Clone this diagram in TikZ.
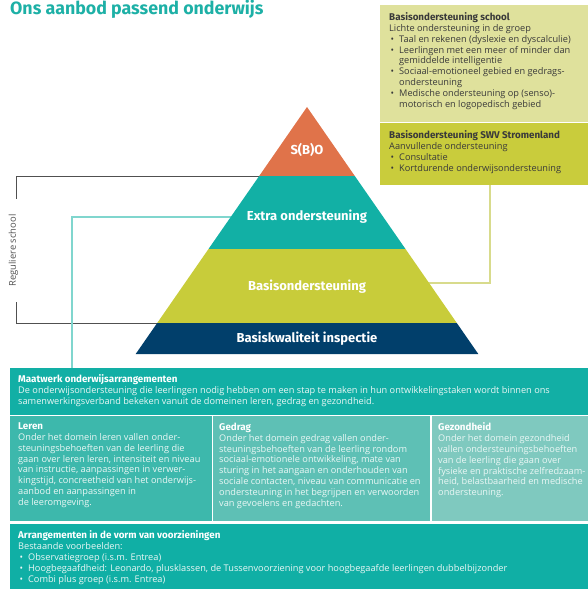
\documentclass[tikz,border=0pt]{standalone}
\usepackage{fontspec}
\setmainfont{Open Sans}
\newfontfamily\hfont{Fira Sans}
\definecolor{titleteal}{HTML}{1DB0A6}
\definecolor{pyorange}{HTML}{E0734A}
\definecolor{pyteal}{HTML}{12B0A5}
\definecolor{pygreen}{HTML}{C8CC3A}
\definecolor{pynavy}{HTML}{013F6B}
\definecolor{lightbox}{HTML}{DFE19C}
\definecolor{greenbox}{HTML}{C9CC3C}
\definecolor{greenline}{HTML}{D8DB8C}
\definecolor{tealline}{HTML}{80D6CE}
\definecolor{greyline}{HTML}{505050}
\definecolor{maatbox}{HTML}{12AFA5}
\definecolor{lerenbox}{HTML}{3DB8AC}
\definecolor{gedragbox}{HTML}{5EC0B5}
\definecolor{gezondbox}{HTML}{7FC9BF}
\definecolor{arrbox}{HTML}{10AFA5}
\definecolor{darktext}{HTML}{3A3A3A}
\definecolor{lighttext}{HTML}{EAF7F5}
\newcommand\hd[1]{{\hfont\bfseries\fontsize{9.8bp}{10.8bp}\selectfont #1}}
\newcommand\bl{\makebox[10bp][l]{\hspace{1.5bp}•}}
\newcommand\bi{\hspace*{10bp}}
\tikzset{
  panel/.style={draw=none, inner sep=0pt, anchor=north west},
  txt/.style={anchor=north west, inner sep=0pt, align=left, font=\fontsize{9.2bp}{10.8bp}\selectfont},
  pylabel/.style={text=white, inner sep=0pt, font=\hfont\bfseries\fontsize{13bp}{14bp}\selectfont},
  conn/.style={line width=1.1bp},
}
\begin{document}
\begin{tikzpicture}[x=1bp,y=-1bp]
\useasboundingbox (0,0) rectangle (588,589);

% title
\node[anchor=base west, inner sep=0pt, text=titleteal, font=\hfont\bfseries\fontsize{17.8bp}{19bp}\selectfont] (title) at (10,14.5) {Ons aanbod passend onderwijs};

% top right boxes
\node[panel, fill=lightbox, minimum width=208bp, minimum height=117bp] (b1) at (380,5) {};
\node[panel, fill=greenbox, minimum width=208bp, minimum height=62bp] (b2) at (380,123) {};
\node[txt, text=darktext] (b1t) at (389,12.6) {\hd{Basisondersteuning school}\\
Lichte ondersteuning in de groep\\
\bl Taal en rekenen (dyslexie en dyscalculie)\\
\bl Leerlingen met een meer of minder dan\\
\bi gemiddelde intelligentie\\
\bl Sociaal-emotioneel gebied en gedrags-\\
\bi ondersteuning\\
\bl Medische ondersteuning op (senso)-\\
\bi motorisch en logopedisch gebied};
\node[txt, text=darktext] (b2t) at (389,130.6) {\hd{Basisondersteuning SWV Stromenland}\\
Aanvullende ondersteuning\\
\bl Consultatie\\
\bl Kortdurende onderwijsondersteuning};

% bottom panels
\node[panel, fill=maatbox, minimum width=578bp, minimum height=47bp] (maat) at (10,368) {};
\node[panel, fill=lerenbox, minimum width=201.5bp, minimum height=105bp] (leren) at (10,416) {};
\node[panel, fill=gedragbox, minimum width=217bp, minimum height=105bp] (gedrag) at (213,416) {};
\node[panel, fill=gezondbox, minimum width=156.5bp, minimum height=105bp] (gezond) at (431.5,416) {};
\node[panel, fill=arrbox, minimum width=578bp, minimum height=65bp] (arr) at (10,524) {};

\node[txt, text=lighttext] (maatt) at (18,374.8) {\hd{\textcolor{white}{Maatwerk onderwijsarrangementen}}\\
De onderwijsondersteuning die leerlingen nodig hebben om een stap te maken in hun ontwikkelingstaken wordt binnen ons\\
samenwerkingsverband bekeken vanuit de domeinen leren, gedrag en gezondheid.};
\node[txt, text=lighttext] (lerent) at (18,422.8) {\hd{\textcolor{white}{Leren}}\\
Onder het domein leren vallen onder-\\
steuningsbehoeften van de leerling die\\
gaan over leren leren, intensiteit en niveau\\
van instructie, aanpassingen in verwer-\\
kingstijd, concreetheid van het onderwijs-\\
aanbod en aanpassingen in\\
de leeromgeving.};
\node[txt, text=lighttext] (gedragt) at (219,422.8) {\hd{\textcolor{white}{Gedrag}}\\
Onder het domein gedrag vallen onder-\\
steuningsbehoeften van de leerling rondom\\
sociaal-emotionele ontwikkeling, mate van\\
sturing in het aangaan en onderhouden van\\
sociale contacten, niveau van communicatie en\\
ondersteuning in het begrijpen en verwoorden\\
van gevoelens en gedachten.};
\node[txt, text=lighttext] (gezondt) at (438,422.8) {\hd{\textcolor{white}{Gezondheid}}\\
Onder het domein gezondheid\\
vallen ondersteuningsbehoeften\\
van de leerling die gaan over\\
fysieke en praktische zelfredzaam-\\
heid, belastbaarheid en medische\\
ondersteuning.};
\node[txt, text=lighttext] (arrt) at (18,530.8) {\hd{\textcolor{white}{Arrangementen in de vorm van voorzieningen}}\\
Bestaande voorbeelden:\\
\bl Observatiegroep (i.s.m. Entrea)\\
\bl Hoogbegaafdheid: Leonardo, plusklassen, de Tussenvoorziening voor hoogbegaafde leerlingen dubbelbijzonder\\
\bl Combi plus groep (i.s.m. Entrea)};

% connector coordinates
\coordinate (gA) at (262,176);
\coordinate (gB) at (16,199);
\coordinate (gC) at (16,302);
\coordinate (gD) at (160,323);
\coordinate (tA) at (232,217);
\coordinate (tB) at (72,217);
\coordinate (yA) at (490,283);
\coordinate (yB) at (428,283);

% label Reguliere school
\node[rotate=90, inner sep=0pt, text=greyline, font=\fontsize{9.4bp}{10bp}\selectfont] (reg) at (13.5,250.5) {Reguliere school};

% connectors (behind pyramid)
\draw[conn, greyline, line width=0.9bp] (gA) -| (gB);
\draw[conn, greyline, line width=0.9bp] (gC) |- (gD);
\draw[conn, tealline] (tA) -- (tB) -- (tB |- maat.north);
\draw[conn, greenline] (b2.south -| yA) -- (yA) -- (yB);

% pyramid
\fill[pyorange] (307,107) -- (354.8,176) -- (259.2,176) -- cycle;
\fill[pyteal] (259.2,176) -- (354.8,176) -- (405.5,249) -- (208.5,249) -- cycle;
\fill[pygreen] (208.5,249) -- (405.5,249) -- (456.8,323) -- (157.2,323) -- cycle;
\fill[pynavy] (157.2,323) -- (456.8,323) -- (478.3,354) -- (135.7,354) -- cycle;

\node[pylabel] (sbo) at (307,150) {S(B)O};
\node[pylabel] (extra) at (307,217) {Extra ondersteuning};
\node[pylabel] (basis) at (307,287) {Basisondersteuning};
\node[pylabel] (kwal) at (307,339) {Basiskwaliteit inspectie};
\end{tikzpicture}
\end{document}
